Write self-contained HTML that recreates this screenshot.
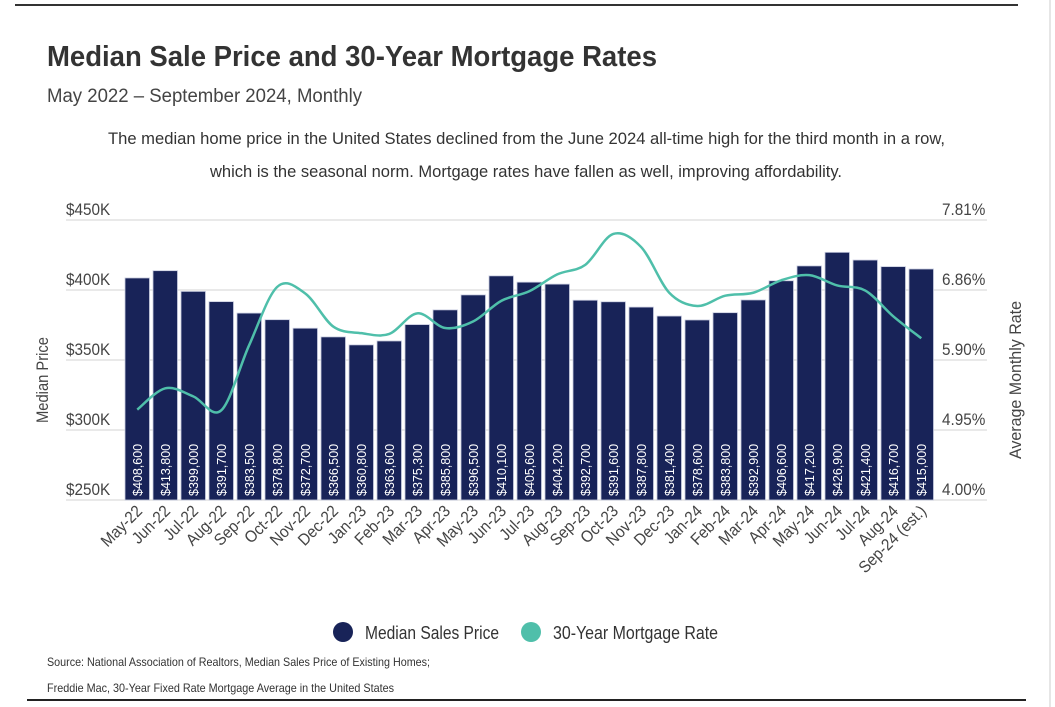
<!DOCTYPE html>
<html><head><meta charset="utf-8">
<style>
html,body{margin:0;padding:0;background:#fff;}
body{width:1055px;height:707px;position:relative;overflow:hidden;font-family:"Liberation Sans Narrow","Liberation Sans",sans-serif;color:#333;}
svg{position:absolute;left:0;top:0;}
</style></head>
<body>
<svg width="1055" height="707" viewBox="0 0 1055 707" id="chart">
<line x1="15" y1="5" x2="1018" y2="5" stroke="#333" stroke-width="2"/>
<line x1="1050" y1="0" x2="1050" y2="707" stroke="#e6e6e6" stroke-width="2"/>
<text x="47" y="66" font-size="29" font-weight="bold" fill="#333" textLength="610" lengthAdjust="spacingAndGlyphs">Median Sale Price and 30-Year Mortgage Rates</text>
<text x="47" y="102" font-size="19" fill="#444" textLength="315" lengthAdjust="spacingAndGlyphs">May 2022 – September 2024, Monthly</text>
<text x="108" y="144" font-size="17" fill="#333" textLength="837" lengthAdjust="spacingAndGlyphs">The median home price in the United States declined from the June 2024 all-time high for the third month in a row,</text>
<text x="210" y="177" font-size="17" fill="#333" textLength="632" lengthAdjust="spacingAndGlyphs">which is the seasonal norm. Mortgage rates have fallen as well, improving affordability.</text>
<g id="grid"></g>
<g id="bars"></g>
<g id="line"></g>
<g id="xlabels"></g>
<text transform="translate(48,380) rotate(-90)" font-size="17" fill="#444" text-anchor="middle" textLength="86" lengthAdjust="spacingAndGlyphs">Median Price</text>
<text transform="translate(1021,380) rotate(-90)" font-size="17" fill="#444" text-anchor="middle" textLength="158" lengthAdjust="spacingAndGlyphs">Average Monthly Rate</text>
<g>
<circle cx="343" cy="632" r="10" fill="#182358"/>
<text x="365" y="639" font-size="18" fill="#333" textLength="134" lengthAdjust="spacingAndGlyphs">Median Sales Price</text>
<circle cx="531" cy="632" r="10" fill="#4fbfaa"/>
<text x="553" y="639" font-size="18" fill="#333" textLength="165" lengthAdjust="spacingAndGlyphs">30-Year Mortgage Rate</text>
</g>
<text x="47" y="666" font-size="12" fill="#333" textLength="383" lengthAdjust="spacingAndGlyphs">Source: National Association of Realtors, Median Sales Price of Existing Homes;</text>
<text x="47" y="692" font-size="12" fill="#333" textLength="347" lengthAdjust="spacingAndGlyphs">Freddie Mac, 30-Year Fixed Rate Mortgage Average in the United States</text>
<line x1="27" y1="700" x2="1026" y2="700" stroke="#222" stroke-width="2"/>
</svg>
<script>
const categories=["May-22","Jun-22","Jul-22","Aug-22","Sep-22","Oct-22","Nov-22","Dec-22","Jan-23","Feb-23","Mar-23","Apr-23","May-23","Jun-23","Jul-23","Aug-23","Sep-23","Oct-23","Nov-23","Dec-23","Jan-24","Feb-24","Mar-24","Apr-24","May-24","Jun-24","Jul-24","Aug-24","Sep-24 (est.)"];
const prices=[408600,413800,399000,391700,383500,378800,372700,366500,360800,363600,375300,385800,396500,410100,405600,404200,392700,391600,387800,381400,378600,383800,392900,406600,417200,426900,421400,416700,415000];
const rates=[5.23,5.52,5.41,5.22,6.11,6.90,6.81,6.36,6.27,6.26,6.54,6.34,6.43,6.71,6.84,7.07,7.20,7.62,7.44,6.82,6.64,6.78,6.82,6.99,7.06,6.92,6.85,6.50,6.20];
const leftTicks=[250000,300000,350000,400000,450000];
const leftTickLabels=["$250K","$300K","$350K","$400K","$450K"];
const rightTickLabels=["4.00%","4.95%","5.90%","6.86%","7.81%"];
const NS="http://www.w3.org/2000/svg";
const X0=123.25,BAND=28,BW=24.5,Y0=500,Y1=220;
const yP=v=>Y0-(v-250000)/(450000-250000)*(Y0-Y1);
const yR=v=>Y0-(v-4.00)/(7.81-4.00)*(Y0-Y1);
const xC=i=>X0+BAND*i+BAND/2;
function mk(tag,attrs,parent){const e=document.createElementNS(NS,tag);for(const k in attrs)e.setAttribute(k,attrs[k]);parent.appendChild(e);return e;}
const grid=document.getElementById('grid');
leftTicks.forEach((t,i)=>{
  const y=yP(t);
  const l=mk('line',{x1:66,x2:987,y1:y,y2:y,stroke:'#e2e2e2','stroke-width':1.5},grid);
  
  
  const a=mk('text',{x:66,y:y-5,'font-size':17,fill:'#444',transform:`translate(66,0) scale(0.9,1) translate(-66,0)`},grid);a.textContent=leftTickLabels[i];
  
  
  const b=mk('text',{x:942,y:y-5,'font-size':17,fill:'#444',transform:`translate(942,0) scale(0.9,1) translate(-942,0)`},grid);b.textContent=rightTickLabels[i];
  
  
});
const bars=document.getElementById('bars');
prices.forEach((p,i)=>{
  const x=X0+BAND*i+(BAND-BW)/2,y=yP(p);
  const r=mk('rect',{x:x,y:y,width:BW,height:Y0-y,fill:'#182358',stroke:'#c9cde0','stroke-width':0.8},bars);
  
  
  const t=mk('text',{transform:`translate(${xC(i)+4.5},${Y0-4}) rotate(-90)`,'font-size':12.5,fill:'#fff'},bars);
  t.textContent='$'+p.toLocaleString('en-US');
  
  
});
const pts=rates.map((r,i)=>[xC(i),yR(r)]);
let d=`M${pts[0][0]},${pts[0][1]}`;
for(let i=0;i<pts.length-1;i++){
  const p0=pts[i-1]||pts[i],p1=pts[i],p2=pts[i+1],p3=pts[i+2]||p2;
  const c1=[p1[0]+(p2[0]-p0[0])/6,p1[1]+(p2[1]-p0[1])/6];
  const c2=[p2[0]-(p3[0]-p1[0])/6,p2[1]-(p3[1]-p1[1])/6];
  d+=` C${c1[0]},${c1[1]} ${c2[0]},${c2[1]} ${p2[0]},${p2[1]}`;
}
const ln=mk('path',{d:d,fill:'none',stroke:'#4fbfaa','stroke-width':2.5},document.getElementById('line'));


const xl=document.getElementById('xlabels');
categories.forEach((c,i)=>{
  const t=mk('text',{transform:`translate(${xC(i)+6},${Y0+12}) rotate(-45) scale(0.92,1)`,'font-size':16.5,fill:'#444','text-anchor':'end'},xl);
  t.textContent=c;
  
  
});
</script>
</body></html>
